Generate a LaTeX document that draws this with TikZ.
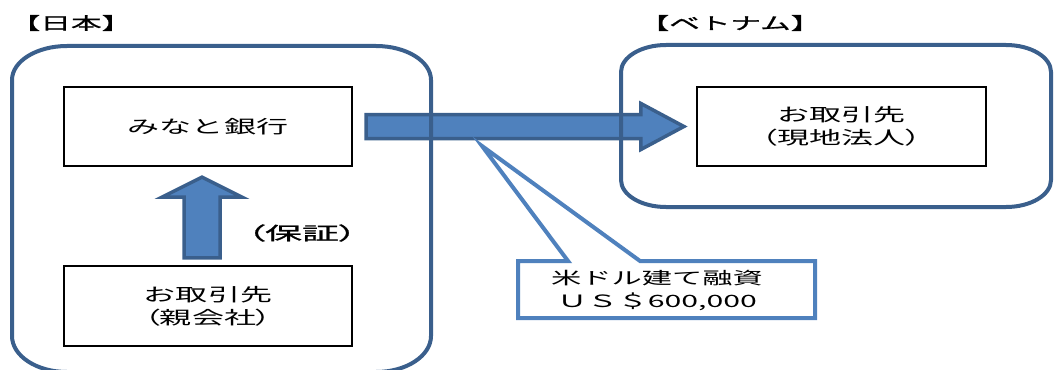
\documentclass[tikz,border=0pt]{standalone}
\usepackage{fontspec}
\usepackage{tikz}
\usetikzlibrary{calc}
\newfontfamily\jpfont[FakeStretch=1.78]{Noto Sans CJK JP}
\newfontfamily\jpparen[FakeStretch=1.78,RawFeature=+palt]{Noto Sans CJK JP}
\newfontfamily\jpbold[FakeStretch=2.05,FakeBold=1.2,RawFeature=+palt]{Noto Sans CJK JP}
\newfontfamily\jplabel[FakeStretch=1.8,FakeBold=1.2]{Noto Sans CJK JP}
\definecolor{regionblue}{HTML}{3A5F8C}
\definecolor{arrowblue}{HTML}{4F81BD}

\begin{document}
\begin{tikzpicture}[x=1pt,y=-1pt,
  region/.style={draw=regionblue, line width=4},
  firm/.style={draw=black, line width=2.2, fill=white, align=center, inner sep=0pt,
    font=\jpfont\fontsize{18}{23}\selectfont},
  blockarrow/.style={draw=regionblue, fill=arrowblue, line width=3.5, line join=miter},
  tag/.style={inner sep=0pt, font=\jplabel\fontsize{17}{20}\selectfont},
  callout/.style={draw=arrowblue, fill=white, line width=4, line join=miter}]
  \useasboundingbox (0,0) rectangle (1056,369);

  \node[tag] (jplabel) at (71,23) {【日本】};
  \node[tag] (vnlabel) at (730,23) {【ベトナム】};

  \node[firm, minimum width=288, minimum height=79] (bank) at (208,126.5) {みなと銀行};
  \node[firm, minimum width=288, minimum height=80] (parent) at (208,306) {お取引先\\{\jpparen （親会社）}};
  \node[firm, minimum width=289, minimum height=79] (local) at (841.5,126.5) {お取引先\\{\jpparen （現地法人）}};

  % guarantee, parent -> bank
  \coordinate (guartail) at ($(parent.north)+(-6,-7)$);
  \coordinate (guarhead) at ($(bank.south)+(-6,10)$);
  \draw[blockarrow] ($(guartail)+(-18,0)$) -- ($(guarhead)+(-18,20)$) -- ($(guarhead)+(-40,20)$)
    -- (guarhead) -- ($(guarhead)+(40,20)$) -- ($(guarhead)+(18,20)$) -- ($(guartail)+(18,0)$) -- cycle;
  \node[inner sep=0pt, font=\jpbold\fontsize{18}{20}\selectfont] (guar) at (302,233) {（保証）};

  % loan, bank -> local
  \coordinate (loantail) at ($(bank.east)+(13,0)$);
  \coordinate (loanhead) at ($(local.west)+(-12,0)$);
  \draw[blockarrow] ($(loantail)+(0,-12)$) -- ($(loanhead)+(-43,-12)$) -- ($(loanhead)+(-43,-23)$)
    -- (loanhead) -- ($(loanhead)+(-43,23)$) -- ($(loanhead)+(-43,12)$) -- ($(loantail)+(0,12)$) -- cycle;

  \draw[region] (67,46) -- (376,46) arc[start angle=-90, end angle=0, x radius=55, y radius=34]
    -- (431,336) arc[start angle=0, end angle=90, x radius=55, y radius=36]
    -- (67,372) arc[start angle=90, end angle=180, x radius=55, y radius=36]
    -- (12,80) arc[start angle=180, end angle=270, x radius=55, y radius=34] -- cycle;
  \draw[region] (666,45) -- (1006,45) arc[start angle=-90, end angle=0, x radius=45, y radius=27]
    -- (1051,180) arc[start angle=0, end angle=90, x radius=45, y radius=27]
    -- (666,207) arc[start angle=90, end angle=180, x radius=45, y radius=27]
    -- (621,72) arc[start angle=180, end angle=270, x radius=45, y radius=27] -- cycle;

  \coordinate (loantip) at (482,146);
  \draw[callout] (518,261) -- (568,261) -- (loantip) -- (640,261) -- (815,261)
    -- (815,318) -- (518,318) -- cycle;
  \node[inner sep=0pt, align=center, font=\jpfont\fontsize{17}{23}\selectfont] (loan) at (657,290)
    {米ドル建て融資\\ＵＳ＄600,000};
\end{tikzpicture}
\end{document}
